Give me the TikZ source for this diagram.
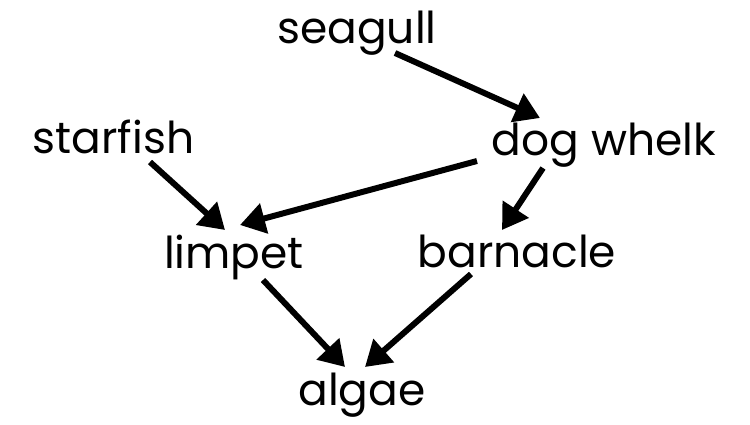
\documentclass[tikz,border=0pt]{standalone}
\usepackage{fontspec}
\setmainfont{Poppins}
\usepackage{tikz}
\usetikzlibrary{arrows.meta,calc}
\tikzset{
  species/.style={inner sep=0pt, anchor=base, font=\fontsize{25}{30}\selectfont},
  eats/.style   ={-{Triangle[length=5mm,width=6mm]}, line width=3.4pt, draw=black}
}

\begin{document}
\begin{tikzpicture}
  \useasboundingbox (0,0) rectangle (15,-8.48);
  % ---------------- Species ----------------
  \node[species] (seagull)  at (7.14,-0.86)  {seagull};
  \node[species] (starfish) at (2.27,-3.06)  {starfish};
  \node[species] (dogwhelk) at (12.08,-3.10) {dog whelk};
  \node[species] (limpet)   at (4.68,-5.36)  {limpet};
  \node[species] (barnacle) at (10.34,-5.34) {barnacle};
  \node[species] (algae)    at (7.24,-8.10)  {algae};

  % ---------------- Feeding links ----------------
  \draw[eats] ($(seagull.base)+(0.76,-0.20)$)   -- ($(dogwhelk.base)+(-1.28,0.74)$);
  \draw[eats] ($(dogwhelk.base)+(-2.54,-0.12)$) -- ($(limpet.base)+(0.12,0.86)$);
  \draw[eats] ($(starfish.base)+(0.73,-0.18)$)  -- ($(limpet.base)+(-0.18,0.76)$);
  \draw[eats] ($(dogwhelk.base)+(-1.22,-0.26)$) -- ($(barnacle.base)+(-0.30,0.74)$);
  \draw[eats] ($(limpet.base)+(0.58,-0.24)$)    -- ($(algae.base)+(-0.34,0.76)$);
  \draw[eats] ($(barnacle.base)+(-0.92,-0.14)$) -- ($(algae.base)+(0.06,0.76)$);
\end{tikzpicture}
\end{document}
